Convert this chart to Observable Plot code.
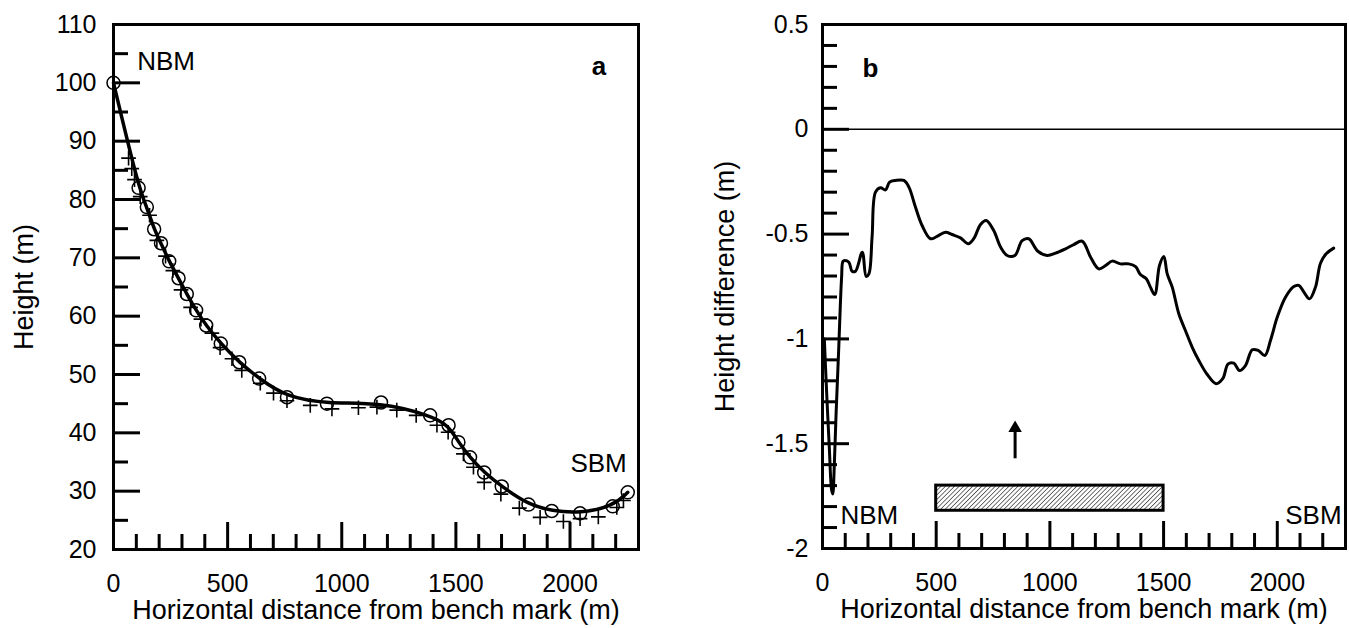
<!DOCTYPE html>
<html><head><meta charset="utf-8">
<script src="https://cdn.jsdelivr.net/npm/d3@7"></script>
<script src="https://cdn.jsdelivr.net/npm/@observablehq/plot@0.6"></script>
<style>
body{margin:0;background:#fff;}
#wrap{display:flex;width:1349px;height:628px;overflow:hidden;}
</style></head><body>
<svg width="0" height="0" style="position:absolute"><defs>
<pattern id="hatch" patternUnits="userSpaceOnUse" width="3.2" height="3.2" patternTransform="rotate(45)">
<rect width="3.2" height="3.2" fill="#fff"/><line x1="0" y1="0" x2="0" y2="3.2" stroke="#000" stroke-width="1.1"/></pattern>
</defs></svg>
<div id="wrap"></div>
<script>
// ---------- Panel a data ----------
const circX = [0,110,146,178,208,244,285,321,362,406,470,551,638,760,935,1172,1387,1468,1511,1562,1624,1701,1818,1920,2044,2187,2253];
const circY = [100,82.0,78.7,74.9,72.5,69.4,66.5,63.8,61.0,58.4,55.3,52.1,49.3,46.1,45.0,45.2,43.0,41.3,38.4,35.8,33.2,30.8,27.7,26.6,26.2,27.4,29.8];
const crossX = [66,80,92,117,158,190,228,260,296,338,383,431,467,519,562,643,701,760,862,957,1073,1154,1241,1326,1417,1466,1533,1577,1624,1697,1778,1869,1971,2044,2124,2205,2234];
const crossY = [87.1,85.3,83.4,80.5,77.3,73.0,70.3,67.8,64.5,61.5,59.5,57.1,54.6,52.7,50.7,48.5,46.8,45.5,44.7,44.1,44.3,44.4,43.9,43.0,41.3,40.1,36.4,34.1,31.5,29.5,27.1,25.5,24.8,25.3,25.6,27.2,28.4];

// ---------- Panel b data ----------
const diffX = [8,18,30,40,45,52,60,71,84,90,98,116,130,145,175,192,204,218,233,255,277,295,321,358,380,409,438,475,504,541,570,607,641,665,695,720,753,783,812,846,878,907,947,988,1025,1069,1105,1142,1179,1215,1245,1274,1310,1347,1377,1398,1424,1442,1461,1482,1501,1516,1538,1567,1596,1626,1655,1692,1731,1760,1784,1809,1834,1860,1890,1916,1945,1970,2000,2036,2073,2095,2117,2142,2168,2190,2215,2248];
const diffY = [-1.0,-1.25,-1.52,-1.72,-1.74,-1.6,-1.35,-1.055,-0.706,-0.63,-0.626,-0.634,-0.677,-0.677,-0.586,-0.702,-0.69,-0.515,-0.300,-0.279,-0.289,-0.252,-0.244,-0.244,-0.276,-0.372,-0.459,-0.522,-0.511,-0.491,-0.502,-0.518,-0.546,-0.522,-0.454,-0.435,-0.483,-0.562,-0.602,-0.602,-0.531,-0.522,-0.582,-0.602,-0.591,-0.570,-0.550,-0.534,-0.610,-0.666,-0.650,-0.629,-0.642,-0.642,-0.655,-0.693,-0.713,-0.753,-0.788,-0.650,-0.607,-0.690,-0.753,-0.880,-0.960,-1.040,-1.103,-1.170,-1.214,-1.190,-1.119,-1.116,-1.151,-1.127,-1.052,-1.055,-1.079,-1.008,-0.896,-0.801,-0.750,-0.745,-0.777,-0.809,-0.753,-0.639,-0.594,-0.567];
const barX1 = [500], barX2 = [1500], barY1 = [-1.82], barY2 = [-1.70];
const arrowX = [847], arrowTail = [-1.572], arrowTip = [-1.426];

// ---------- ticks and labels ----------
const xDomain = [0, 2300];
const xTickLabels = [0, 500, 1000, 1500, 2000];
const xMajor = [500, 1000, 1500, 2000];
const xMinor = [100,200,300,400,600,700,800,900,1100,1200,1300,1400,1600,1700,1800,1900,2100,2200];
const yDomainA = [20, 110];
const yTickLabelsA = [20,30,40,50,60,70,80,90,100,110];
const yMajorA = [30,40,50,60,70,80,90,100];
const yMinorA = [25,35,45,55,65,75,85,95,105];
const yDomainB = [-2, 0.5];
const yTickLabelsB = [-2,-1.5,-1,-0.5,0,0.5];
const yMajorB = [-1.5,-1,-0.5,0];
const yMinorB = [-1.9,-1.8,-1.7,-1.6,-1.4,-1.3,-1.2,-1.1,-0.9,-0.8,-0.7,-0.6,-0.4,-0.3,-0.2,-0.1,0.1,0.2,0.3,0.4];
const xTitle = "Horizontal distance from bench mark (m)";
const yTitleA = "Height (m)";
const yTitleB = "Height difference (m)";
// annotations: [x, y, text]
const startNotesA = [{x:104, y:103.7, t:"NBM"}];
const midNotesA = [{x:2125, y:34.7, t:"SBM"}];
const boldNotesA = [{x:2127, y:102.8, t:"a"}];
const startNotesB = [{x:79, y:-1.845, t:"NBM"}];
const midNotesB = [{x:2159, y:-1.845, t:"SBM"}];
const boldNotesB = [{x:211, y:0.288, t:"b"}];

const circles = circX.map((x,i)=>({x, y:circY[i]}));
const crosses = crossX.map((x,i)=>({x, y:crossY[i]}));
const diffs = diffX.map((x,i)=>({x, y:diffY[i]}));
const bars = barX1.map((x1,i)=>({x1, x2:barX2[i], y1:barY1[i], y2:barY2[i]}));
const arrows = arrowX.map((x,i)=>({x, y1:arrowTail[i], y2:arrowTip[i]}));

const font = "'Liberation Sans', Arial, sans-serif";
const tickFmt = d => String(d);
const MAJ = 27, MIN = 15;

function notes(start, mid, bold) {
  const common = {x: "x", y: "y", text: "t", lineAnchor: "middle", fontSize: 26, fontFamily: font};
  return [
    Plot.text(start, {...common, textAnchor: "start"}),
    Plot.text(mid, {...common, textAnchor: "middle"}),
    Plot.text(bold, {...common, textAnchor: "middle", fontWeight: "bold"})
  ];
}

function panel({width, mL, mR, mT, mB, yDomain, yLabels, yMaj, yMin, yTitle, yTitleDx, yLabDx, marks}) {
  const pw = width - mL - mR, ph = 628 - mT - mB;
  return Plot.plot({
    width, height: 628,
    marginLeft: mL, marginRight: mR, marginTop: mT, marginBottom: mB,
    x: {domain: xDomain, axis: null},
    y: {domain: yDomain, axis: null},
    style: {fontFamily: font, fontSize: "25px", color: "#000", background: "#fff", overflow: "visible"},
    marks: [
      ...marks,
      Plot.tickY(yMaj, {y: d => d, insetRight: pw - MAJ, strokeWidth: 3}),
      Plot.tickY(yMin, {y: d => d, insetRight: pw - MIN, strokeWidth: 3}),
      Plot.tickX(xMajor, {x: d => d, insetTop: ph - MAJ, strokeWidth: 3}),
      Plot.tickX(xMinor, {x: d => d, insetTop: ph - MIN, strokeWidth: 3}),
      Plot.frame({strokeWidth: 3}),
      Plot.text(yLabels, {y: d => d, text: tickFmt, frameAnchor: "left", dx: yLabDx, textAnchor: "end", lineAnchor: "middle", fontSize: 25, fontFamily: font}),
      Plot.text(xTickLabels, {x: d => d, text: tickFmt, frameAnchor: "bottom", dy: 34, textAnchor: "middle", lineAnchor: "middle", fontSize: 25, fontFamily: font}),
      Plot.text([xTitle], {text: d => d, frameAnchor: "bottom", dy: 61, textAnchor: "middle", lineAnchor: "middle", fontSize: 27, fontFamily: font}),
      Plot.text([yTitle], {text: d => d, frameAnchor: "left", dx: yTitleDx, rotate: -90, textAnchor: "middle", lineAnchor: "middle", fontSize: 27, fontFamily: font})
    ]
  });
}

const a = panel({
  width: 680, mL: 113, mR: 42, mT: 24, mB: 79,
  yDomain: yDomainA, yLabels: yTickLabelsA, yMaj: yMajorA, yMin: yMinorA,
  yTitle: yTitleA, yTitleDx: -89, yLabDx: -17,
  marks: [
    Plot.line(circles, {x: "x", y: "y", curve: "basis", strokeWidth: 3.5, stroke: "#000"}),
    Plot.dot(circles, {x: "x", y: "y", r: 6.5, stroke: "#000", strokeWidth: 1.5, fill: "none"}),
    Plot.dot(crosses, {x: "x", y: "y", symbol: "plus", r: 4.8, stroke: "#000", strokeWidth: 1.6}),
    ...notes(startNotesA, midNotesA, boldNotesA)
  ]
});

const b = panel({
  width: 669, mL: 142, mR: 4, mT: 24, mB: 80,
  yDomain: yDomainB, yLabels: yTickLabelsB, yMaj: yMajorB, yMin: yMinorB,
  yTitle: yTitleB, yTitleDx: -97, yLabDx: -14,
  marks: [
    Plot.ruleY([0], {strokeWidth: 1.5}),
    Plot.line(diffs, {x: "x", y: "y", curve: "catmull-rom", strokeWidth: 3, stroke: "#000", strokeLinejoin: "round"}),
    Plot.rect(bars, {x1: "x1", x2: "x2", y1: "y1", y2: "y2", fill: "url(#hatch)", stroke: "#000", strokeWidth: 3}),
    Plot.ruleX(arrows, {x: "x", y1: "y1", y2: "y2", strokeWidth: 3}),
    Plot.dot(arrows, {x: "x", y: "y2", symbol: "triangle", r: 5, fill: "#000", stroke: "none"}),
    ...notes(startNotesB, midNotesB, boldNotesB)
  ]
});

const wrap = document.getElementById("wrap");
wrap.appendChild(a);
wrap.appendChild(b);
</script>
</body></html>
